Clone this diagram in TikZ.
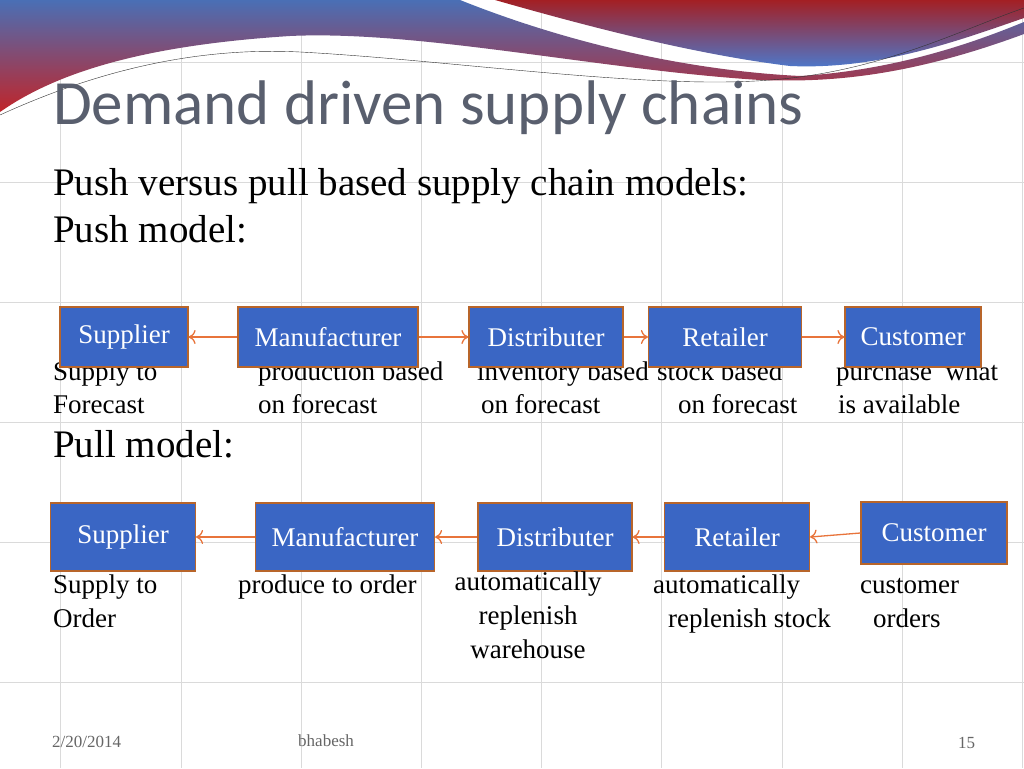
\documentclass[tikz,border=0pt]{standalone}
\usepackage{fontspec}
\setmainfont{Liberation Serif}
\newfontfamily\titlefont{Carlito}
\usetikzlibrary{arrows.meta}
\begin{document}
\begin{tikzpicture}[x=1pt,y=-1pt,
  chainBox/.style={draw=boxEdge,line width=1.2pt,fill=boxFill,text=white,
    font=\fontsize{27}{29}\selectfont,inner sep=0pt},
  chainArrow/.style={draw=arrowColor,line width=1.3pt,-{To[length=7pt,width=14pt]}},
  label/.style={anchor=base west,inner sep=0pt,font=\fontsize{27}{29}\selectfont}]
% Colors
\definecolor{boxFill}{RGB}{58,102,196}
\definecolor{boxEdge}{RGB}{184,101,42}
\definecolor{arrowColor}{RGB}{232,116,59}
\definecolor{gridColor}{RGB}{218,218,218}
\definecolor{titleColor}{RGB}{89,95,110}
\definecolor{waveBlue}{RGB}{74,111,181}
\definecolor{waveRed}{RGB}{192,37,42}
\definecolor{waveBright}{RGB}{74,123,208}
\useasboundingbox (0,0) rectangle (1024,768);
\fill[white] (0,0) rectangle (1024,768);
% Grid
\foreach \gx in {60,181,301,421,541,661,782,902,1022}
  \draw[gridColor,thin] (\gx,0) -- (\gx,768);
\foreach \gy in {62,182,302,422,542,682}
  \draw[gridColor,thin] (0,\gy) -- (1024,\gy);
% Banner waves
\shade[top color=waveBlue,bottom color=waveRed]
  (0,0) -- (460,0) .. controls (560,40) and (680,70) .. (800,76)
  .. controls (900,70) and (980,40) .. (1024,22) -- (1024,34)
  .. controls (900,80) and (820,82) .. (760,80)
  .. controls (600,70) and (420,30) .. (290,36)
  .. controls (150,45) and (60,70) .. (0,112) -- cycle;
\shade[top color=waveRed!85!black,bottom color=waveBright]
  (495,0) -- (1024,0) -- (1024,18)
  .. controls (960,40) and (880,70) .. (790,66)
  .. controls (700,55) and (600,30) .. (495,0) -- cycle;
\draw[black!80,thin] (0,115) .. controls (120,60) and (220,48) .. (300,52)
  .. controls (450,60) and (650,90) .. (770,80)
  .. controls (880,72) and (960,30) .. (1024,8);
% Titles
\node[anchor=base west,inner sep=0pt,text=titleColor,font=\titlefont\fontsize{63}{66}\selectfont] (title) at (53,124) {Demand driven supply chains};
\node[anchor=base west,inner sep=0pt,font=\fontsize{39}{42}\selectfont] (subtitle) at (53,195) {Push versus pull based supply chain models:};
\node[anchor=base west,inner sep=0pt,font=\fontsize{39}{42}\selectfont] (pushTitle) at (53,242) {Push model:};
\node[anchor=base west,inner sep=0pt,font=\fontsize{39}{42}\selectfont] (pullTitle) at (53,457) {Pull model:};
% Push labels
\node[label] (pushSupA) at (53,380) {Supply to};
\node[label] (pushSupB) at (53,413) {Forecast};
\node[label] (pushManA) at (258,380) {production based};
\node[label] (pushManB) at (258,413) {on forecast};
\node[label] (pushDisA) at (477,380) {inventory based};
\node[label] (pushDisB) at (481,413) {on forecast};
\node[label] (pushRetA) at (657,380) {stock based};
\node[label] (pushRetB) at (678,413) {on forecast};
\node[label] (pushCusA) at (836,380) {purchase\ \ what};
\node[label] (pushCusB) at (838,413) {is available};
% Push boxes
\node[chainBox,minimum width=128pt,minimum height=60pt] (pushSup) at (124,337) {Supplier};
\node[chainBox,minimum width=180pt,minimum height=60pt] (pushMan) at (328,337) {Manufacturer};
\node[chainBox,minimum width=154pt,minimum height=60pt] (pushDis) at (546,337) {Distributer};
\node[chainBox,minimum width=153pt,minimum height=60pt] (pushRet) at (725,337) {Retailer};
\node[chainBox,minimum width=136pt,minimum height=60pt] (pushCus) at (913,337) {Customer};
\draw[chainArrow] (pushMan) -- (pushSup);
\draw[chainArrow] (pushMan) -- (pushDis);
\draw[chainArrow] (pushDis) -- (pushRet);
\draw[chainArrow] (pushRet) -- (pushCus);
% Pull boxes
\node[chainBox,minimum width=145pt,minimum height=68pt] (pullSup) at (123,537) {Supplier};
\node[chainBox,minimum width=179pt,minimum height=68pt] (pullMan) at (345,537) {Manufacturer};
\node[chainBox,minimum width=154pt,minimum height=68pt] (pullDis) at (555,537) {Distributer};
\node[chainBox,minimum width=145pt,minimum height=68pt] (pullRet) at (737,537) {Retailer};
\node[chainBox,minimum width=146pt,minimum height=62pt] (pullCus) at (934,533) {Customer};
\draw[chainArrow] (pullMan) -- (pullSup);
\draw[chainArrow] (pullDis) -- (pullMan);
\draw[chainArrow] (pullRet) -- (pullDis);
\draw[chainArrow] (pullCus.west) -- (pullRet.east);
% Pull labels
\node[label] (pullSupA) at (53,593) {Supply to};
\node[label] (pullSupB) at (53,627) {Order};
\node[label] (pullManA) at (238,593) {produce to order};
\node[label,anchor=base] (pullDisA) at (528,590) {automatically};
\node[label,anchor=base] (pullDisB) at (528,624) {replenish};
\node[label,anchor=base] (pullDisC) at (528,658) {warehouse};
\node[label] (pullRetA) at (653,593) {automatically};
\node[label] (pullRetB) at (668,627) {replenish stock};
\node[label] (pullCusA) at (860,593) {customer};
\node[label] (pullCusB) at (873,627) {orders};
% Footer
\node[anchor=base west,inner sep=0pt,text=black!60,font=\fontsize{17}{19}\selectfont] (date) at (52,747) {2/20/2014};
\node[anchor=base west,inner sep=0pt,text=black!60,font=\fontsize{17}{19}\selectfont] (author) at (298,746) {bhabesh};
\node[anchor=base west,inner sep=0pt,text=black!60,font=\fontsize{17}{19}\selectfont] (page) at (958,748) {15};
\end{tikzpicture}
\end{document}
